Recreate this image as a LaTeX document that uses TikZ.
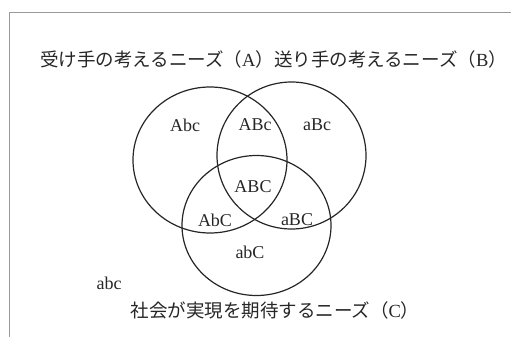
\documentclass[tikz,border=0pt]{standalone}
\usepackage{fontspec}
\setmainfont{Liberation Serif}
\newfontfamily\jp{Noto Sans CJK JP}
\begin{document}
\begin{tikzpicture}[x=1pt,y=-1pt,
  venn/.style={draw=black!85,line width=1.2pt},
  lbl/.style={font=\fontsize{18}{20}\selectfont,text=black!85,inner sep=0pt},
  title/.style={font=\fontsize{18.5}{20}\selectfont,text=black!85,inner sep=0pt},
  frame/.style={draw=black!40,line width=0.8pt}]
\useasboundingbox (0,0) rectangle (511,337);
\coordinate (fb) at (9,337);
\coordinate (fc) at (9,12);
\coordinate (fr) at (511,12);
\draw[frame] (fb) -- (fc) -- (fr);
\draw[venn] (210,160) ellipse [x radius=77, y radius=73];
\draw[venn] (291.5,155.5) ellipse [x radius=74.5, y radius=73.5];
\draw[venn] (256.5,225.5) ellipse [x radius=74.5, y radius=70];
\node[title] (t1) at (273.5,59) {\jp 受け手の考えるニーズ（\rmfamily A\jp ）送り手の考えるニーズ（\rmfamily B\jp ）};
\node[title] (t2) at (275,310) {\jp 社会が実現を期待するニーズ（\rmfamily C\jp ）};
\node[lbl] (n1) at (185,125) {Abc};
\node[lbl] (n2) at (255,125) {ABc};
\node[lbl] (n3) at (317,125) {aBc};
\node[lbl] (n4) at (253,187) {ABC};
\node[lbl] (n5) at (215,220) {AbC};
\node[lbl] (n6) at (297,220) {aBC};
\node[lbl] (n7) at (250,252) {abC};
\node[lbl] (n8) at (109,283) {abc};
\end{tikzpicture}
\end{document}
